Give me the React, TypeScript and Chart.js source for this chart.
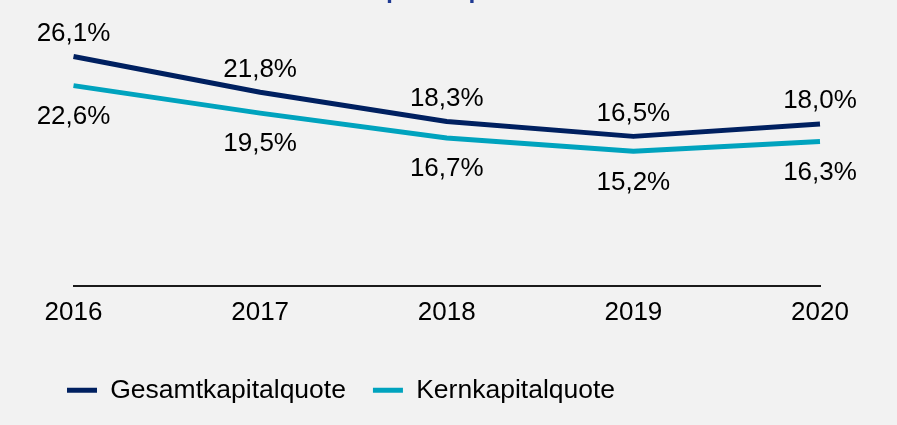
import React, { useEffect, useRef } from "react";
import { Chart, registerables } from "chart.js";

Chart.register(...registerables);

const categories = ["2016", "2017", "2018", "2019", "2020"];
const gesamtkapitalquote = [26.1, 21.8, 18.3, 16.5, 18.0];
const kernkapitalquote = [22.6, 19.5, 16.7, 15.2, 16.3];
const seriesNames = ["Gesamtkapitalquote", "Kernkapitalquote"];
const titleText = "Kapitalquote";

const FONT = "'Liberation Sans', Arial, sans-serif";
const NAVY = "#002060";
const TEAL = "#00A3BE";

const fmt = (v: number) => v.toFixed(1).replace(".", ",") + "%";

const valueLabels = {
  id: "valueLabels",
  afterDatasetsDraw(chart: any) {
    const ctx = chart.ctx;
    ctx.save();
    ctx.font = `26px ${FONT}`;
    ctx.fillStyle = "#000";
    ctx.textAlign = "center";
    ctx.textBaseline = "alphabetic";
    chart.data.datasets.forEach((ds: any, i: number) => {
      const meta = chart.getDatasetMeta(i);
      meta.data.forEach((pt: any, j: number) => {
        const v = ds.data[j] as number;
        const y = i === 0 ? pt.y - 15.7 : pt.y + 38.3;
        ctx.fillText(fmt(v), pt.x, y);
      });
    });
    ctx.restore();
  },
};

const clippedTitle = {
  id: "clippedTitle",
  afterDraw(chart: any) {
    const ctx = chart.ctx;
    ctx.save();
    ctx.font = `38px ${FONT}`;
    ctx.fillStyle = "#1F3A93";
    ctx.textAlign = "left";
    ctx.textBaseline = "alphabetic";
    ctx.fillText(titleText, 338.8, -5.5);
    ctx.restore();
  },
};

export default function App() {
  const ref = useRef<HTMLCanvasElement | null>(null);
  useEffect(() => {
    if (!ref.current) return;
    Chart.defaults.font.family = FONT;
    const chart = new Chart(ref.current, {
      type: "line",
      data: {
        labels: categories,
        datasets: [
          {
            label: seriesNames[0],
            data: gesamtkapitalquote,
            borderColor: NAVY,
            backgroundColor: NAVY,
            borderWidth: 5,
            pointRadius: 0,
            tension: 0,
            borderCapStyle: "butt",
            borderJoinStyle: "round",
            yAxisID: "y2",
          },
          {
            label: seriesNames[1],
            data: kernkapitalquote,
            borderColor: TEAL,
            backgroundColor: TEAL,
            borderWidth: 5,
            pointRadius: 0,
            tension: 0,
            borderCapStyle: "butt",
            borderJoinStyle: "round",
            yAxisID: "y",
          },
        ],
      },
      options: {
        responsive: false,
        animation: false,
        events: [],
        layout: { padding: { left: 40, right: 77, top: 20, bottom: 11.5 } },
        scales: {
          x: {
            type: "category",
            offset: false,
            grid: { display: false, drawTicks: false },
            border: { display: true, color: "#1a1a1a", width: 2 },
            ticks: { color: "#000", font: { size: 26, family: FONT }, padding: 11.7, maxRotation: 0, autoSkip: false },
            afterFit: (s: any) => {
              s.height = 64;
            },
          },
          y: {
            min: 0,
            max: 30,
            display: true,
            grid: { display: false, drawTicks: false },
            border: { display: false },
            ticks: { display: false },
            afterFit: (s: any) => {
              s.width = 33.5;
            },
          },
          y2: {
            min: -1.5,
            max: 30.5,
            display: false,
            position: "left",
          },
        },
        plugins: {
          title: { display: false },
          tooltip: { enabled: false },
          legend: {
            display: true,
            position: "bottom",
            align: "start",
            labels: {
              boxWidth: 30,
              boxHeight: 5,
              padding: 27,
              color: "#000",
              font: { size: 26.5, family: FONT },
              generateLabels: (c: any) =>
                Chart.defaults.plugins.legend.labels.generateLabels(c).map((l: any) => ({ ...l, lineWidth: 0 })),
            },
          },
        },
      },
      plugins: [valueLabels, clippedTitle],
    });
    return () => chart.destroy();
  }, []);
  return (
    <div style={{ position: "fixed", top: 0, left: 0, width: 897, height: 425, background: "#F2F2F2" }}>
      <canvas ref={ref} width={897} height={425} style={{ display: "block", width: 897, height: 425 }} />
    </div>
  );
}
